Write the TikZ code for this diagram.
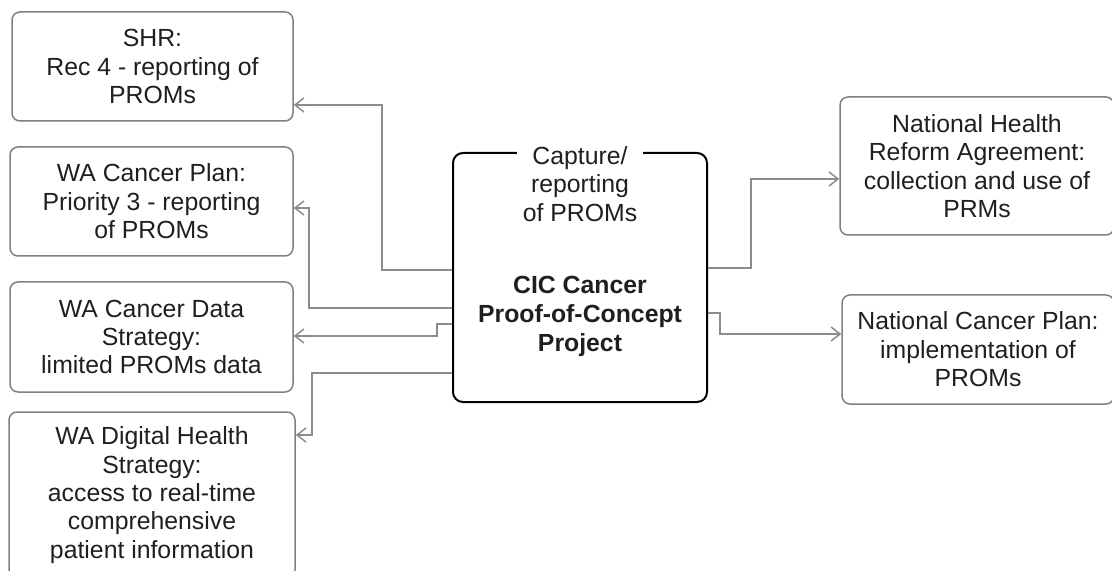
\documentclass[tikz,border=0pt]{standalone}
\usepackage{fontspec}
\setmainfont{Liberation Sans}
\usetikzlibrary{arrows.meta,positioning,calc}

\begin{document}
\begin{tikzpicture}[
  x=0.5pt, y=-0.5pt,
  font=\fontsize{12.4}{14.2}\selectfont,
  src/.style={rectangle, rounded corners=4pt, draw=black!50, line width=0.75pt,
              text=black!88, align=center, inner sep=0pt},
  hub/.style={rectangle, rounded corners=5pt, draw=black, line width=1pt,
              minimum width=127pt, minimum height=124.5pt},
  ar/.style={-{Straight Barb[length=4.5pt,width=7pt]}, draw=black!45, line width=0.75pt}
]
\useasboundingbox (0,0) rectangle (1112,571);

% sources on the left
\node[src, minimum width=140.5pt, minimum height=54.5pt] (shr)  at (152.5,66.5) {SHR:\\Rec 4 - reporting of\\PROMs};
\node[src, minimum width=141.5pt, minimum height=54.5pt] (plan) at (151.5,201.5) {WA Cancer Plan:\\Priority 3 - reporting\\of PROMs};
\node[src, minimum width=141.5pt, minimum height=55pt]   (data) at (151.5,337) {WA Cancer Data\\Strategy:\\limited PROMs data};
\node[src, minimum width=143pt,   minimum height=83pt]   (dig)  at (152,495) {WA Digital Health\\Strategy:\\access to real-time\\comprehensive\\patient information};

% the project
\node[hub] (cic) at (580,277.5) {};
\node[fill=white, inner xsep=3pt, inner ysep=0pt, anchor=north, align=center, text=black!88]
  (cap) at (580,146) {Capture/\\reporting\\of PROMs};
\node[font=\fontsize{12.4}{14.5}\selectfont\bfseries, align=center, text=black!88]
  (name) at (580,316) {CIC Cancer\\Proof-of-Concept\\Project};

% national level
\node[src, minimum width=137pt, minimum height=69pt]   (nhra) at (977,166) {National Health\\Reform Agreement:\\collection and use of\\PRMs};
\node[src, minimum width=136pt, minimum height=54.5pt] (ncp)  at (978,349.5) {National Cancer Plan:\\implementation of\\PROMs};

\draw[ar] (cic.west |- 0,270) -| (382,105) -- (shr.east |- 0,105);
\draw[ar] (cic.west |- 0,308) -| (309,208) -- (plan.east |- 0,208);
\draw[ar] (cic.west |- 0,324) -| (437,336) -- (data.east |- 0,336);
\draw[ar] (cic.west |- 0,373) -| (312,435) -- (dig.east |- 0,435);
\draw[ar] (cic.east |- 0,268) -| (751,179) -- (nhra.west |- 0,179);
\draw[ar] (cic.east |- 0,313) -| (720,334) -- (ncp.west |- 0,334);
\end{tikzpicture}
\end{document}
